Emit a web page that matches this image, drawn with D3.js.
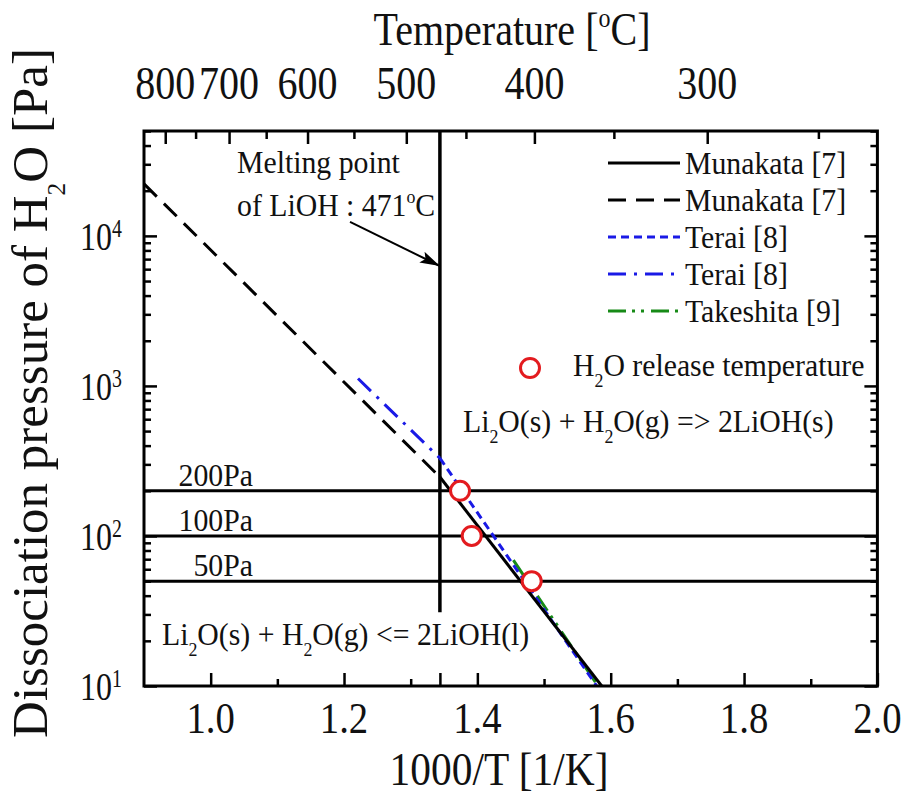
<!DOCTYPE html>
<html>
<head>
<meta charset="utf-8">
<script src="https://cdn.jsdelivr.net/npm/d3@7"></script>
<style>
    body { margin: 0; background: #fff; }
    svg text { fill: #111; }
</style>
</head>
<body>
<svg id="chart" width="905" height="800"></svg>
<script>
'use strict';

// Values: [1000/T (1/K), pressure (Pa)]
var munakataSolid = [[1.3438, 247], [1.5865, 10]];
var munakataDashed = [[0.9, 22200], [1.3438, 247]];
var teraiDotted = [[1.3438, 330], [1.579, 10]];
var teraiDashDot = [[1.221, 1120], [1.3438, 330]];
var takeshita = [[1.454, 69], [1.581, 10]];
var releasePoints = [[1.374, 200], [1.3915, 100], [1.4815, 50]];

var pressureLevels = [200, 100, 50];
var meltingPointC = 471;
var meltingArrow = [[1.209, 12400], [1.3438, 6300]];
var meltingLineBottom = 31;   // Pa, where the melting line stops

var legendNames = ['Munakata [7]', 'Munakata [7]', 'Terai [8]', 'Terai [8]', 'Takeshita [9]'];

var xTicks = [1.0, 1.2, 1.4, 1.6, 1.8, 2.0];
var xMinorTicks = [1.1, 1.3, 1.5, 1.7, 1.9];
var tempLabels = [800, 700, 600, 500, 400, 300];
var tempMinor = [750, 650, 550, 450, 350, 250];
var yTicks = [10, 100, 1000, 10000];

var FONT = '"Liberation Serif", "Times New Roman", Times, serif';

var svg = d3.select('#chart');
var plot = {left: 144, right: 877.4, top: 131, bottom: 686};

var x = d3.scaleLinear().domain([0.9, 2.0]).range([plot.left, plot.right]);
var y = d3.scaleLog().domain([10, 5e4]).range([plot.bottom, plot.top]);

function toInv(c) {
    return 1000 / (c + 273.15);
}
var meltX = toInv(meltingPointC);

var yMinorTicks = [];
yTicks.forEach(d => {
    for (var k = 2; k <= 9; k++) {
        if (d * k <= 5e4) {
            yMinorTicks.push(d * k);
        }
    }
});

// text with sub/superscript parts, squeezed horizontally like the original
function richText(parent, px, py, parts, size, opts) {
    opts = opts || {};
    var sx = opts.sx || 1,
        small = size * (opts.smallRatio || 0.6),
        supShift = -size * (opts.supShift || 0.4),
        subShift = size * (opts.subShift || 0.33),
        cur = 0;
    var tf = `translate(${px},${py})` + (opts.rotate ? ` rotate(${opts.rotate})` : '') + ` scale(${sx},1)`;
    var t = parent.append('text')
        .attr('transform', tf)
        .attr('font-family', FONT)
        .attr('font-size', size)
        .attr('text-anchor', opts.anchor || 'start');
    parts.forEach(p => {
        var kind = p[1] || '',
            shift = kind === 'sup' ? supShift : (kind === 'sub' ? subShift : 0);
        t.append('tspan')
            .attr('dy', shift - cur)
            .attr('font-size', kind ? small : size)
            .text(p[0]);
        cur = shift;
    });
    return t;
}

var defs = svg.append('defs');
defs.append('clipPath')
    .attr('id', 'plot-clip')
    .append('rect')
    .attr('x', plot.left)
    .attr('y', plot.top)
    .attr('width', plot.right - plot.left)
    .attr('height', plot.bottom - plot.top);

defs.append('marker')
    .attr('id', 'arrow')
    .attr('markerUnits', 'userSpaceOnUse')
    .attr('markerWidth', 22)
    .attr('markerHeight', 12)
    .attr('refX', 20)
    .attr('refY', 6)
    .attr('orient', 'auto')
    .append('path')
    .attr('d', 'M0,0 L20,6 L0,12 L4,6 Z')
    .attr('fill', '#000');

var body = svg.append('g').attr('clip-path', 'url(#plot-clip)');

// pressure levels
body.selectAll('line.level')
    .data(pressureLevels)
    .enter()
    .append('line')
    .attr('class', 'level')
    .attr('x1', plot.left)
    .attr('x2', plot.right)
    .attr('y1', d => y(d))
    .attr('y2', d => y(d))
    .attr('stroke', '#000')
    .attr('stroke-width', 3);

// melting point of LiOH
body.append('line')
    .attr('x1', x(meltX))
    .attr('x2', x(meltX))
    .attr('y1', plot.top)
    .attr('y2', y(meltingLineBottom))
    .attr('stroke', '#000')
    .attr('stroke-width', 3.5);

var series = [
    {data: munakataSolid, color: '#000', dash: null},
    {data: munakataDashed, color: '#000', dash: '18,10'},
    {data: teraiDotted, color: '#1a1ae6', dash: '8,5'},
    {data: teraiDashDot, color: '#1a1ae6', dash: '18,8,3,8'},
    {data: takeshita, color: '#178a17', dash: '18,6,3,6,3,7'}
];
series.forEach((s, i) => { s.name = legendNames[i]; });

var line = d3.line()
    .x(d => x(d[0]))
    .y(d => y(d[1]));

series.slice().reverse().forEach(s => {
    body.append('path')
        .attr('d', line(s.data))
        .attr('fill', 'none')
        .attr('stroke', s.color)
        .attr('stroke-width', 3)
        .attr('stroke-dasharray', s.dash);
});

body.selectAll('circle.release')
    .data(releasePoints)
    .enter()
    .append('circle')
    .attr('class', 'release')
    .attr('cx', d => x(d[0]))
    .attr('cy', d => y(d[1]))
    .attr('r', 9.5)
    .attr('fill', '#fff')
    .attr('stroke', '#e31b1f')
    .attr('stroke-width', 3);

// frame and ticks
svg.append('rect')
    .attr('x', plot.left)
    .attr('y', plot.top)
    .attr('width', plot.right - plot.left)
    .attr('height', plot.bottom - plot.top)
    .attr('fill', 'none')
    .attr('stroke', '#000')
    .attr('stroke-width', 3);

function tickAxis(axis, tx, ty, values, size) {
    var g = svg.append('g')
        .attr('transform', `translate(${tx},${ty})`)
        .call(axis.tickValues(values).tickSize(-size).tickSizeOuter(0).tickFormat(''));
    g.select('.domain').remove();
    g.selectAll('line').attr('stroke', '#000').attr('stroke-width', 2.5);
}

tickAxis(d3.axisBottom(x), 0, plot.bottom, xTicks.concat([meltX]), 13);
tickAxis(d3.axisBottom(x), 0, plot.bottom, xMinorTicks, 7);
tickAxis(d3.axisTop(x), 0, plot.top, tempLabels.map(toInv), 13);
tickAxis(d3.axisTop(x), 0, plot.top, tempMinor.map(toInv), 8);
tickAxis(d3.axisLeft(y), plot.left, 0, yTicks, 13);
tickAxis(d3.axisLeft(y), plot.left, 0, yMinorTicks, 7);
tickAxis(d3.axisRight(y), plot.right, 0, yTicks, 13);
tickAxis(d3.axisRight(y), plot.right, 0, yMinorTicks, 7);

// tick labels
xTicks.forEach(v => {
    richText(svg, x(v), 733, [[d3.format('.1f')(v)]], 44, {anchor: 'middle', sx: 0.88});
});
tempLabels.forEach(t => {
    richText(svg, x(toInv(t)), 99, [[String(t)]], 46, {anchor: 'middle', sx: 0.87});
});
yTicks.forEach(v => {
    richText(svg, 80, y(v) + 14, [['10'], [String(Math.round(Math.log10(v))), 'sup']], 40,
        {sx: 0.8, supShift: 0.32, smallRatio: 0.62});
});

// axis titles
richText(svg, 512, 45, [['Temperature ['], ['o', 'sup'], ['C]']], 46, {anchor: 'middle', sx: 0.87});
richText(svg, 499, 785, [['1000/T [1/K]']], 46, {anchor: 'middle', sx: 0.9});
richText(svg, 47, 393, [['Dissociation pressure of H'], ['2', 'sub'], ['O [Pa]']], 51,
    {anchor: 'middle', rotate: -90, subShift: 0.36, smallRatio: 0.5});

// annotations
var small = 32, smallSx = 0.93;
richText(svg, 237, 173, [['Melting point']], small, {sx: smallSx});
richText(svg, 237, 216, [[`of LiOH : ${meltingPointC}`], ['o', 'sup'], ['C']], small, {sx: smallSx});
svg.append('line')
    .attr('x1', x(meltingArrow[0][0]))
    .attr('y1', y(meltingArrow[0][1]))
    .attr('x2', x(meltingArrow[1][0]))
    .attr('y2', y(meltingArrow[1][1]))
    .attr('stroke', '#000')
    .attr('stroke-width', 2)
    .attr('marker-end', 'url(#arrow)');

pressureLevels.forEach(p => {
    richText(svg, 253, y(p) - 5, [[p + 'Pa']], small, {anchor: 'end', sx: smallSx});
});

richText(svg, 463, 432,
    [['Li'], ['2', 'sub'], ['O(s) + H'], ['2', 'sub'], ['O(g) => 2LiOH(s)']], small, {sx: smallSx});
richText(svg, 162, 645,
    [['Li'], ['2', 'sub'], ['O(s) + H'], ['2', 'sub'], ['O(g) <= 2LiOH(l)']], small, {sx: smallSx});

// legend
var legend = svg.append('g');
series.forEach((s, i) => {
    var ly = 163 + i * 37;
    legend.append('line')
        .attr('x1', 608)
        .attr('x2', 680)
        .attr('y1', ly)
        .attr('y2', ly)
        .attr('stroke', s.color)
        .attr('stroke-width', 3)
        .attr('stroke-dasharray', s.dash);
    richText(legend, 685, ly + 11, [[s.name]], small, {sx: smallSx});
});
legend.append('circle')
    .attr('cx', 530)
    .attr('cy', 368)
    .attr('r', 9.5)
    .attr('fill', '#fff')
    .attr('stroke', '#e31b1f')
    .attr('stroke-width', 3);
richText(legend, 573, 376, [['H'], ['2', 'sub'], ['O release temperature']], small, {sx: smallSx});
</script>
</body>
</html>
